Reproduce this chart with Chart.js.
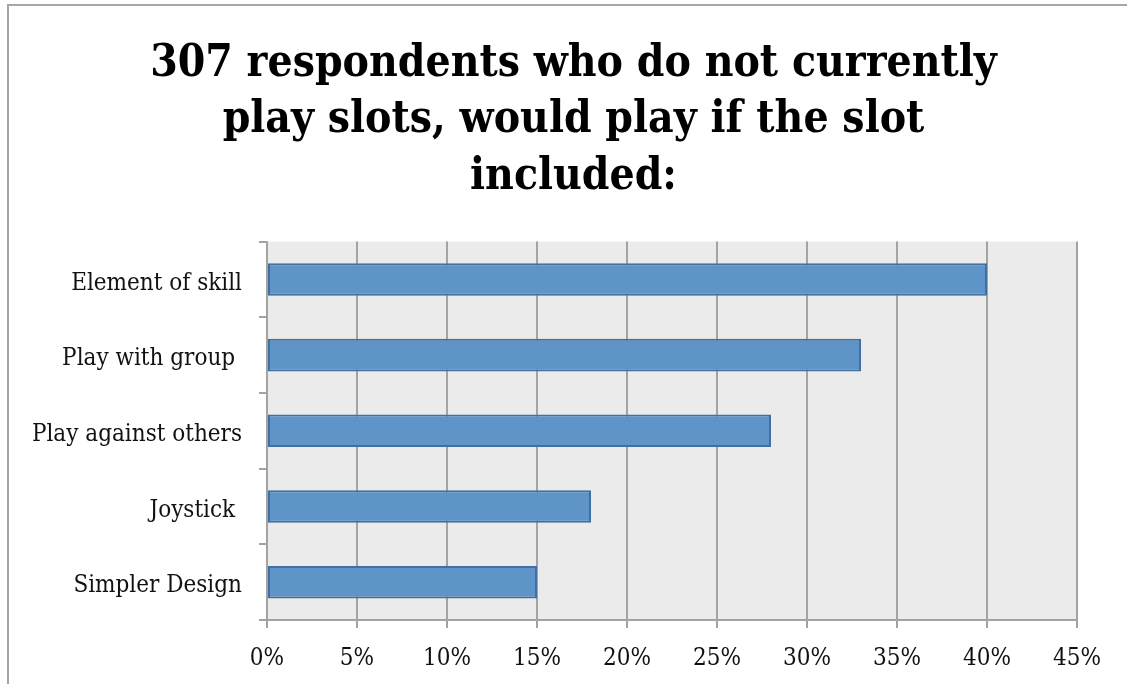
<!DOCTYPE html>
<html>
<head>
<meta charset="utf-8">
<script src="https://cdn.jsdelivr.net/npm/chart.js@4.4.1/dist/chart.umd.min.js"></script>
<style>
  html, body { margin: 0; padding: 0; background: #fff; overflow: hidden; }
  #wrap { position: relative; width: 1127px; height: 684px; }
  #frame { position: absolute; left: 7px; top: 4px; width: 1200px; height: 800px;
           border-top: 2px solid #a6a6a6; border-left: 2px solid #a6a6a6; }
  canvas { position: absolute; left: 0; top: 0; }
</style>
</head>
<body>
<div id="wrap">
  <div id="frame"></div>
  <canvas id="c" width="1127" height="684"></canvas>
</div>
<script>
const titleLines = ["307 respondents who do not currently", "play slots, would play if the slot", "included:"];
const categories = ["Element of skill", "Play with group ", "Play against others", "Joystick ", "Simpler Design"];
const values = [40, 33, 28, 18, 15];
const xMin = 0, xMax = 45, xStep = 5;

const bgPlugin = {
  id: 'plotBg',
  beforeDraw(chart) {
    const a = chart.chartArea, ctx = chart.ctx;
    ctx.save();
    ctx.fillStyle = '#ebebeb';
    ctx.fillRect(a.left, a.top, a.right - a.left, a.bottom - a.top);
    ctx.restore();
  }
};

const serif = "'DejaVu Serif Condensed', 'DejaVu Serif'";

new Chart(document.getElementById('c'), {
  type: 'bar',
  data: {
    labels: categories,
    datasets: [{
      data: values,
      backgroundColor: '#5e94c8',
      borderColor: '#41709e',
      borderWidth: 2,
      borderSkipped: false,
      categoryPercentage: 1,
      barPercentage: 0.43
    }]
  },
  options: {
    indexAxis: 'y',
    responsive: false,
    animation: false,
    devicePixelRatio: 1,
    layout: { padding: { left: 20, right: 0, top: 0, bottom: 0 } },
    plugins: {
      legend: { display: false },
      tooltip: { enabled: false },
      title: {
        display: true,
        text: titleLines,
        color: '#000',
        font: { family: serif, size: 44, weight: 'bold', lineHeight: 1.285 },
        padding: { top: 36, bottom: 36 }
      }
    },
    scales: {
      x: {
        min: xMin, max: xMax,
        ticks: {
          stepSize: xStep,
          callback: v => v + '%',
          color: '#111',
          font: { family: serif, size: 24 },
          padding: 16
        },
        grid: { color: '#a3a3a3', lineWidth: 2, tickLength: 8, drawTicks: true },
        border: { color: '#a3a3a3', width: 2 },
        afterFit(scale) { scale.height = 64; }
      },
      y: {
        ticks: {
          color: '#111',
          font: { family: serif, size: 24 },
          padding: 17,
          labelOffset: 4
        },
        grid: { color: '#a3a3a3', lineWidth: 2, drawOnChartArea: false, tickLength: 8, offset: true },
        border: { color: '#a3a3a3', width: 2 },
        afterFit(scale) { scale.width = 247; }
      },
      yRight: {
        type: 'category',
        position: 'right',
        labels: categories,
        ticks: { display: false },
        grid: { display: false, drawTicks: false },
        border: { display: false },
        afterFit(scale) { scale.width = 50; }
      }
    }
  },
  plugins: [bgPlugin]
});
</script>
</body>
</html>
